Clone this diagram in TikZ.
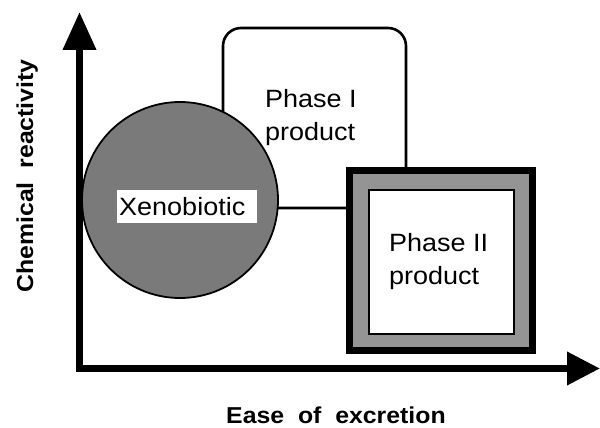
\documentclass[tikz,border=0pt]{standalone}
\usepackage{fontspec}
\setmainfont{Liberation Sans}[FakeStretch=1.08]
\usetikzlibrary{arrows.meta}
\tikzset{
  axisline/.style={line width=7pt, line join=miter,
    {Triangle[length=38pt,width=32pt]}-{Triangle[length=33pt,width=32pt]}},
  lbl/.style={font=\fontsize{25}{30}\selectfont, inner sep=0pt},
  axislbl/.style={font=\fontsize{23}{28}\selectfont\bfseries, inner sep=0pt},
  phaseone/.style={draw=black, line width=2.6pt, rounded corners=18pt, fill=white,
    minimum width=183pt, minimum height=180pt, inner sep=0pt},
  xeno/.style={circle, draw=black, line width=1.8pt, fill=black!52,
    minimum size=196pt, inner sep=0pt},
  whitebox/.style={fill=white, minimum width=140pt, minimum height=33pt, inner sep=0pt},
}
\begin{document}
\begin{tikzpicture}[x=1pt,y=-1pt]
\useasboundingbox (0,0) rectangle (600,428);
% Phase I product box
\node[phaseone] (p1) at (314.5,118) {};
\node[lbl, anchor=base west] (p1a) at (265,107) {Phase I};
\node[lbl, anchor=base west] (p1b) at (265,140) {product};
% Xenobiotic
\node[xeno] (x) at (180,200) {};
\node[whitebox] (xb) at (187,206.5) {};
\node[lbl, anchor=base west] (xt) at (119,215) {Xenobiotic};
% Phase II product box
\fill[black] (346,167) rectangle (536,354);
\fill[black!42] (353,174) rectangle (529,347);
\node[fill=white, draw=black, line width=2pt, minimum width=145pt, minimum height=144pt, inner sep=0pt] (p2) at (441,261.5) {};
\node[lbl, anchor=base west] (p2a) at (389,251) {Phase II};
\node[lbl, anchor=base west] (p2b) at (389,284) {product};
% axes
\coordinate (O) at (79.5,368.5);
\coordinate (ytip) at (79.5,12);
\coordinate (xtip) at (600,368.5);
\draw[axisline] (ytip) -- (O) -- (xtip);
\node[axislbl, rotate=90, anchor=base] (ylab) at (33,176) {Chemical\ \ reactivity};
\node[axislbl, anchor=base] (xlab) at (336,423) {Ease\ \ of\ \ excretion};
\end{tikzpicture}
\end{document}
